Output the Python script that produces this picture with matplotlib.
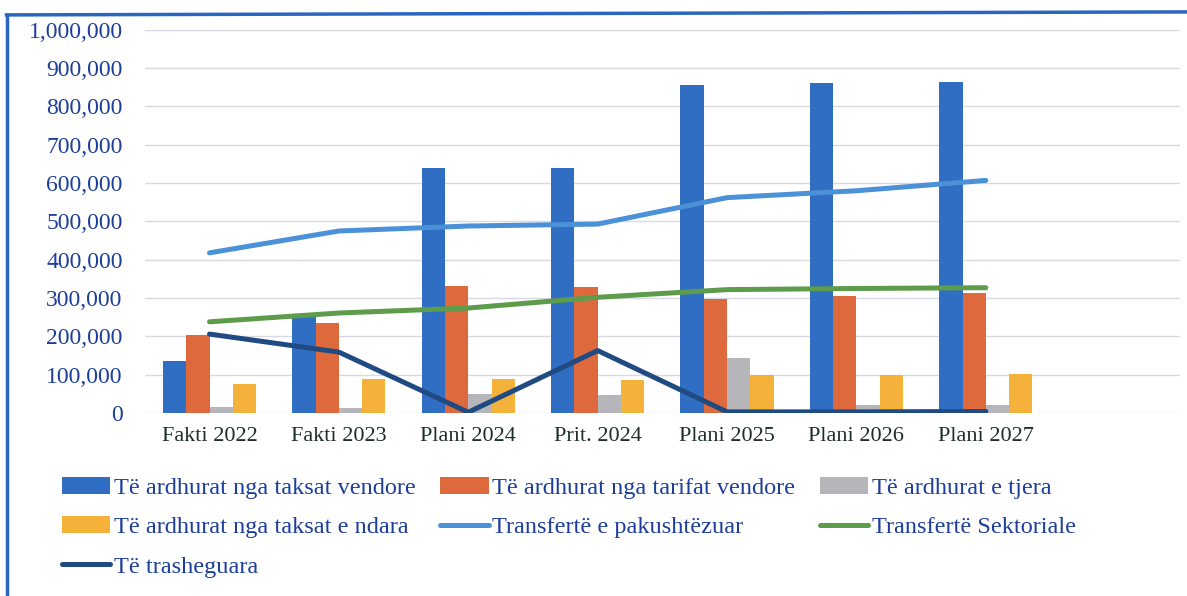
import matplotlib.pyplot as plt
import numpy as np
from matplotlib.lines import Line2D
from matplotlib.ticker import FuncFormatter

categories = ['Fakti 2022', 'Fakti 2023', 'Plani 2024', 'Prit. 2024',
              'Plani 2025', 'Plani 2026', 'Plani 2027']

taksat_vendore = [136000, 255000, 640000, 640000, 856000, 860000, 864000]
tarifat_vendore = [204000, 235000, 332000, 330000, 298000, 305000, 312000]
te_tjera = [16000, 13000, 50000, 46000, 143000, 20000, 20000]
taksat_ndara = [76000, 88000, 89000, 86000, 98000, 99000, 103000]

pakushtezuar = [418000, 475000, 488000, 493000, 562000, 580000, 607000]
sektoriale = [238000, 261000, 274000, 302000, 322000, 325000, 327000]
trasheguara = [206000, 159000, 2000, 163000, 3000, 3000, 4000]

bar_names = ['Të ardhurat nga taksat vendore', 'Të ardhurat nga tarifat vendore',
             'Të ardhurat e tjera', 'Të ardhurat nga taksat e ndara']
line_names = ['Transfertë e pakushtëzuar', 'Transfertë Sektoriale', 'Të trasheguara']

bar_colors = ['#2f6ec2', '#de693d', '#b5b5ba', '#f4b23a']
line_colors = ['#4b91d8', '#5c9c4a', '#1f4b82']

tick_blue = '#1d3f9a'
label_dark = '#1c2e26'

plt.rcParams['font.family'] = ['Liberation Serif', 'DejaVu Serif']

fig = plt.figure(figsize=(11.87, 5.96), dpi=100)
ax = fig.add_axes([0.122, 0.307, 0.872, 0.643])

x = np.arange(len(categories))
w = 0.18
bars = [taksat_vendore, tarifat_vendore, te_tjera, taksat_ndara]
handles = {}
for i, (vals, name, col) in enumerate(zip(bars, bar_names, bar_colors)):
    h = ax.bar(x + (i - 1.5) * w, vals, w, color=col, label=name, zorder=2)
    handles[name] = h

lines = [pakushtezuar, sektoriale, trasheguara]
for vals, name, col in zip(lines, line_names, line_colors):
    h, = ax.plot(x, vals, color=col, lw=3.6, solid_capstyle='round', label=name, zorder=3)
    handles[name] = h

ax.set_xlim(-0.5, 7.5)
ax.set_ylim(0, 1000000)
ax.set_yticks(np.arange(0, 1000001, 100000))
ax.yaxis.set_major_formatter(FuncFormatter(lambda v, p: f'{int(v):,}'))
ax.set_xticks(x)
ax.set_xticklabels(categories)
ax.grid(axis='y', color='#d9d9e4', lw=1, zorder=0)
ax.set_axisbelow(True)
for s in ax.spines.values():
    s.set_visible(False)
ax.tick_params(axis='y', length=0, pad=16, labelsize=17, labelcolor=tick_blue)
ax.tick_params(axis='x', length=0, pad=10, labelsize=16, labelcolor=label_dark)

# row-major order like the original legend
order = [bar_names[0], bar_names[3], line_names[2],
         bar_names[1], line_names[0],
         bar_names[2], line_names[1]]
leg = fig.legend([handles[n] for n in order], order, loc='upper left',
                 bbox_to_anchor=(0.052, 0.2), ncol=3, frameon=False,
                 fontsize=17.5, handlelength=2.0, handletextpad=0.15,
                 columnspacing=1.0, labelspacing=0.72, borderaxespad=0,
                 borderpad=0)
for t in leg.get_texts():
    t.set_color(tick_blue)

# blue frame (left and top)
fig.add_artist(Line2D([0.0055, 0.0055], [0, 0.975], transform=fig.transFigure,
                      color='#2966c0', lw=2.5))
fig.add_artist(Line2D([0.0055, 1.0], [0.975, 0.98], transform=fig.transFigure,
                      color='#2966c0', lw=2.5))

fig.savefig('out.png', dpi=100)
